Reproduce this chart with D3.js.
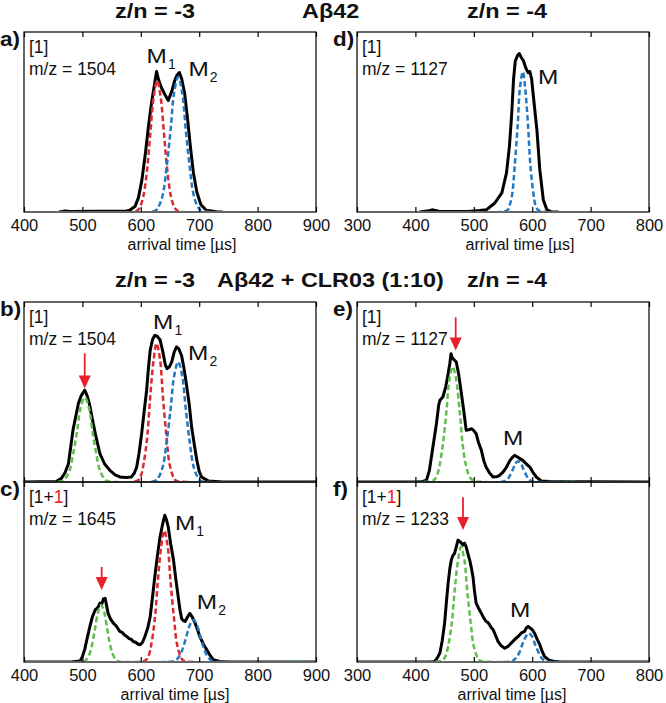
<!DOCTYPE html>
<html><head><meta charset="utf-8">
<script src="https://cdn.jsdelivr.net/npm/d3@7"></script>
<style>body{margin:0;background:#fff}svg{display:block}text{font-family:"Liberation Sans",Arial,sans-serif}</style>
</head><body><svg id="c" width="666" height="703"></svg>
<script>
// ---------- data ----------
const ticksLeft = [400,500,600,700,800,900];
const ticksRight = [300,400,500,600,700,800];
const axisTitle = "arrival time [µs]";

// panel a  (Aβ42, z/n=-3, m/z 1504)
const aTotal = [[460,0],[470,0.006],[480,0.003],[520,0.004],[560,0.004],[575,0.006],[581,0.01],[590,0.03],[596,0.08],[602,0.18],[608,0.33],[614,0.5],[619,0.62],[623,0.7],[627,0.78],[630,0.74],[634,0.7],[640,0.66],[647,0.62],[653,0.67],[658,0.73],[662,0.76],[666,0.775],[670,0.74],[675,0.66],[680,0.52],[685,0.36],[690,0.22],[696,0.11],[703,0.04],[712,0.01],[730,0.002],[740,0]];
const aM1 = [[460,0],[592,0.005],[598,0.024],[604,0.082],[610,0.212],[616,0.425],[622,0.638],[628,0.73],[634,0.638],[640,0.425],[646,0.212],[652,0.082],[658,0.024],[664,0.005],[730,0]];
const aM2 = [[460,0],[625,0.008],[631,0.033],[638,0.101],[644,0.244],[651,0.455],[657,0.662],[664,0.75],[671,0.662],[677,0.455],[684,0.244],[690,0.101],[697,0.033],[703,0.008],[730,0]];

// panel d  (Aβ42, z/n=-4, m/z 1127)
const dTotal = [[407,0],[420,0.005],[430,0.012],[440,0.004],[490,0.003],[510,0.008],[522,0.013],[536,0.05],[548,0.106],[556,0.217],[561,0.365],[565,0.55],[568,0.735],[571,0.838],[575,0.87],[578,0.88],[581,0.86],[585,0.84],[589,0.8],[593,0.774],[596,0.78],[599,0.74],[602,0.644],[605,0.55],[608,0.458],[613,0.235],[619,0.068],[625,0.013],[632,0.002],[645,0]];
const dM = [[407,0],[557,0.009],[561,0.034],[566,0.105],[570,0.254],[575,0.473],[579,0.688],[584,0.78],[588,0.688],[593,0.473],[597,0.254],[602,0.105],[606,0.034],[611,0.009],[625,0]];

// panel b  (Aβ42 + CLR03, z/n=-3, m/z 1504)
const bTotal = [[400,0],[455,0.003],[464,0.02],[470,0.05],[476,0.1],[484,0.29],[493,0.435],[498,0.48],[504,0.51],[508,0.48],[512,0.435],[517,0.35],[522,0.27],[530,0.157],[538,0.1],[547,0.065],[556,0.04],[564,0.028],[575,0.025],[584,0.028],[589,0.05],[593,0.083],[597,0.16],[601.5,0.27],[606,0.4],[610,0.51],[613,0.63],[616,0.73],[620,0.79],[624,0.815],[628,0.81],[633,0.79],[638,0.72],[642,0.65],[645,0.63],[649,0.64],[653,0.667],[657,0.72],[661,0.75],[665,0.74],[670,0.7],[674,0.63],[678,0.546],[683,0.43],[687,0.305],[692,0.2],[696,0.12],[700,0.06],[704,0.028],[716,0.005],[740,0],[900,0]];
const bBound = [[400,0],[465,0.005],[471,0.021],[478,0.063],[484,0.153],[491,0.285],[497,0.415],[504,0.47],[511,0.415],[517,0.285],[524,0.153],[530,0.063],[537,0.021],[543,0.005],[560,0],[900,0]];
const bM1 = [[400,0],[594,0.008],[600,0.034],[605,0.104],[611,0.25],[616,0.467],[622,0.679],[627,0.77],[633,0.679],[638,0.467],[644,0.25],[649,0.104],[655,0.034],[660,0.008],[680,0],[900,0]];
const bM2 = [[400,0],[625,0.007],[631,0.029],[638,0.09],[644,0.217],[651,0.405],[657,0.588],[664,0.667],[671,0.588],[677,0.405],[684,0.217],[690,0.09],[697,0.029],[703,0.007],[720,0],[900,0]];

// panel c  (Aβ42 + CLR03, z/n=-3, m/z 1645, [1+1])
const cTotal = [[400,0],[480,0],[496,0.005],[500,0.03],[504,0.07],[508,0.13],[513,0.2],[517,0.25],[522,0.29],[526,0.3],[530,0.327],[533,0.32],[536,0.35],[539,0.354],[541,0.32],[544,0.27],[548,0.24],[553,0.216],[558,0.2],[564,0.17],[568,0.165],[572,0.15],[576,0.142],[580,0.13],[584,0.125],[587,0.114],[591,0.11],[595,0.1],[599,0.096],[603,0.11],[607,0.142],[612,0.19],[616,0.25],[620,0.36],[624,0.474],[628,0.58],[633,0.695],[637,0.76],[641,0.815],[644,0.79],[647,0.75],[651,0.66],[656,0.566],[660,0.46],[664,0.363],[667,0.29],[670,0.24],[673,0.23],[676,0.225],[680,0.25],[684,0.27],[688,0.25],[693,0.216],[697,0.18],[701,0.142],[707,0.1],[713,0.068],[718,0.04],[724,0.013],[735,0.003],[750,0],[900,0]];
const cBound = [[400,0],[502,0.003],[507,0.014],[512,0.043],[517,0.103],[522,0.192],[527,0.28],[532,0.317],[537,0.28],[542,0.192],[547,0.103],[552,0.043],[557,0.014],[562,0.003],[580,0],[900,0]];
const cM1 = [[400,0],[607,0.008],[613,0.032],[618,0.099],[624,0.237],[629,0.443],[635,0.644],[640,0.73],[646,0.644],[651,0.443],[657,0.237],[662,0.099],[668,0.032],[673,0.008],[690,0],[900,0]];
const cM2 = [[400,0],[654,0.003],[660,0.01],[666,0.032],[672,0.076],[678,0.142],[684,0.206],[690,0.234],[696,0.206],[702,0.142],[708,0.076],[714,0.032],[720,0.01],[726,0.003],[740,0],[900,0]];

// panel e  (Aβ42 + CLR03, z/n=-4, m/z 1127)
const eTotal = [[300,0],[400,0],[413,0.003],[419,0.01],[424,0.065],[430,0.194],[436,0.324],[440,0.43],[442,0.454],[447,0.472],[452,0.53],[456,0.6],[459,0.66],[461,0.713],[463,0.69],[466,0.68],[470,0.667],[474,0.6],[478,0.51],[483,0.39],[487,0.287],[491,0.29],[496,0.296],[500,0.285],[504,0.268],[508,0.22],[513,0.176],[517,0.12],[521,0.083],[527,0.05],[533,0.028],[540,0.03],[544,0.037],[550,0.055],[556,0.083],[562,0.12],[567,0.14],[570,0.148],[574,0.14],[579,0.13],[584,0.12],[590,0.1],[596,0.083],[601,0.055],[607,0.028],[616,0.005],[630,0.003],[700,0.002],[800,0]];
const eBound = [[400,0],[430,0.007],[436,0.028],[441,0.086],[447,0.208],[453,0.388],[458,0.564],[464,0.64],[470,0.564],[476,0.388],[481,0.208],[487,0.086],[493,0.028],[499,0.007],[520,0],[680,0]];
const eM = [[400,0],[549,0.001],[553,0.005],[558,0.016],[562,0.037],[567,0.07],[571,0.101],[576,0.115],[581,0.101],[585,0.07],[590,0.037],[594,0.016],[599,0.005],[603,0.001],[620,0],[680,0]];

// panel f  (Aβ42 + CLR03, z/n=-4, m/z 1233, [1+1])
const fTotal = [[300,0],[425,0],[433,0.003],[437,0.02],[442,0.05],[446,0.12],[450,0.216],[453,0.33],[456,0.437],[459,0.52],[461.5,0.566],[464,0.59],[467,0.603],[470,0.64],[473,0.677],[476,0.67],[479,0.66],[481.5,0.65],[484,0.66],[487,0.64],[490,0.6],[493,0.566],[496,0.52],[498.6,0.474],[501,0.4],[504,0.327],[508,0.3],[513,0.27],[517,0.245],[521,0.225],[524,0.22],[527,0.207],[530,0.19],[533,0.18],[537,0.15],[541.5,0.114],[547,0.09],[553,0.077],[558,0.085],[564,0.105],[570,0.125],[576,0.142],[581,0.16],[587,0.17],[590,0.19],[593,0.197],[596,0.19],[600,0.18],[604,0.16],[608,0.13],[613,0.096],[617,0.06],[621,0.031],[628,0.012],[636,0.004],[650,0],[800,0]];
const fBound = [[420,0],[445,0.007],[451,0.028],[456,0.086],[462,0.208],[467,0.388],[473,0.564],[478,0.64],[484,0.564],[489,0.388],[495,0.208],[500,0.086],[506,0.028],[511,0.007],[530,0],[660,0]];
const fM = [[420,0],[561,0.002],[567,0.007],[572,0.022],[578,0.052],[583,0.097],[589,0.141],[594,0.16],[600,0.141],[605,0.097],[611,0.052],[616,0.022],[622,0.007],[627,0.002],[640,0],[660,0]];

// labels
const panelLetters = ["a)","b)","c)","d)","e)","f)"];
const speciesLabels = ["[1]","[1]","[1+1]","[1]","[1]","[1+1]"];
const mzLabels = ["m/z = 1504","m/z = 1504","m/z = 1645","m/z = 1127","m/z = 1127","m/z = 1233"];
const titleRow1 = ["z/n = -3","Aβ42","z/n = -4"];
const titleRow2 = ["z/n = -3","Aβ42 + CLR03 (1:10)","z/n = -4"];

// ---------- layout ----------
const svg = d3.select("#c");
const COLX = [[24,316],[357,649]];
const ROWY = [[32,212],[302,482],[482,662]];
const RED="#dc2b30", BLUE="#2378c3", GREEN="#62bd4f", ARROW="#e8202a";
const FONT = '"Liberation Sans",Arial,sans-serif';

function stretch(sel, f) {
  sel.each(function(){
    const L = this.getComputedTextLength();
    d3.select(this).attr("textLength", L*f).attr("lengthAdjust","spacingAndGlyphs");
  });
  return sel;
}

const panels = [
  {i:0,col:0,row:0,dom:[400,900],total:aTotal,fits:[[aM1,RED],[aM2,BLUE]],
   M:[{s:"1",x:610,y:0.83},{s:"2",x:681.5,y:0.755}],arrow:null,ticks:ticksLeft,labels:true,tdx:12},
  {i:1,col:0,row:1,dom:[400,900],total:bTotal,fits:[[bBound,GREEN],[bM1,RED],[bM2,BLUE]],
   M:[{s:"1",x:621,y:0.852},{s:"2",x:681,y:0.676}],arrow:{x:504,y0:0.715,y1:0.52},ticks:ticksLeft,labels:false},
  {i:2,col:0,row:2,dom:[400,900],total:cTotal,fits:[[cBound,GREEN],[cM1,RED],[cM2,BLUE]],
   M:[{s:"1",x:658.5,y:0.733},{s:"2",x:696,y:0.295}],arrow:{x:533,y0:0.528,y1:0.4},ticks:ticksLeft,labels:true,tdx:5},
  {i:3,col:1,row:0,dom:[300,800],total:dTotal,fits:[[dM,BLUE]],
   M:[{s:"",x:610,y:0.709}],arrow:null,ticks:ticksRight,labels:true,tdx:17},
  {i:4,col:1,row:1,dom:[300,800],total:eTotal,fits:[[eBound,GREEN],[eM,BLUE]],
   M:[{s:"",x:550,y:0.204}],arrow:{x:469,y0:0.915,y1:0.73},ticks:ticksRight,labels:false},
  {i:5,col:1,row:2,dom:[300,800],total:fTotal,fits:[[fBound,GREEN],[fM,BLUE]],
   M:[{s:"",x:562,y:0.252}],arrow:{x:481.5,y0:0.915,y1:0.733},ticks:ticksRight,labels:true,tdx:9}
];

const defs = svg.append("defs");

panels.forEach(p => {
  const [x0,x1] = COLX[p.col], [y0,y1] = ROWY[p.row];
  const x = d3.scaleLinear().domain(p.dom).range([x0,x1]);
  const y = d3.scaleLinear().domain([0,1]).range([y1,y0]);
  const g = svg.append("g");
  defs.append("clipPath").attr("id","clip"+p.i).append("rect")
    .attr("x",x0).attr("y",y0-2).attr("width",x1-x0).attr("height",y1-y0+1);
  const plot = g.append("g").attr("clip-path",`url(#clip${p.i})`);
  const lineBlack = d3.line().x(d=>x(d[0])).y(d=>y(d[1])).curve(d3.curveLinear);
  const lineFit = d3.line().x(d=>x(d[0])).y(d=>y(d[1])).curve(d3.curveCatmullRom);
  plot.append("path").attr("d",lineBlack(p.total)).attr("fill","none")
    .attr("stroke","#000").attr("stroke-width",3).attr("stroke-linejoin","round");
  p.fits.forEach(([data,col]) => {
    plot.append("path").attr("d",lineFit(data)).attr("fill","none")
      .attr("stroke",col).attr("stroke-width",2.5).attr("stroke-dasharray","5.5,3");
  });
  // frame
  g.append("rect").attr("x",x0).attr("y",y0).attr("width",x1-x0).attr("height",y1-y0)
    .attr("fill","none").attr("stroke","#000").attr("stroke-width",1.2);
  // inward ticks top & bottom
  const top = g.append("g").attr("transform",`translate(0,${y0})`)
    .call(d3.axisTop(x).tickValues(p.ticks).tickSize(-5).tickFormat(""));
  const bot = g.append("g").attr("transform",`translate(0,${y1})`)
    .call(d3.axisBottom(x).tickValues(p.ticks).tickSize(-5).tickPadding(7.5)
      .tickFormat(p.labels ? d3.format("d") : ""));
  [top,bot].forEach(a => { a.select(".domain").remove(); a.selectAll("line").attr("stroke","#000").attr("stroke-width",1.2); });
  bot.selectAll("text").attr("font-size",16.5).attr("font-family",FONT).attr("fill","#111");
  if (p.labels) {
    g.append("text").attr("x",(x0+x1)/2 + p.tdx).attr("y",y1+37.5)
      .attr("text-anchor","middle").attr("font-size",16).attr("fill","#111").text(axisTitle);
  }
  // panel letter
  stretch(g.append("text").attr("x",x0-24).attr("y",y0+14).attr("font-size",19.5).attr("font-weight","bold")
    .attr("fill","#111").text(panelLetters[p.i]), 1.15);
  // species + m/z
  const sp = g.append("text").attr("x",x0+5).attr("y",y0+21).attr("font-size",17.5).attr("fill","#111");
  if (speciesLabels[p.i]==="[1+1]") {
    sp.append("tspan").text("[1+");
    sp.append("tspan").attr("fill","#e8202a").text("1");
    sp.append("tspan").text("]");
  } else sp.text(speciesLabels[p.i]);
  g.append("text").attr("x",x0+5).attr("y",y0+43).attr("font-size",17.5).attr("fill","#111").text(mzLabels[p.i]);
  // M labels
  p.M.forEach(m => {
    const mx = x(m.x), my = y(m.y);
    const t = stretch(g.append("text").attr("x",mx).attr("y",my).attr("font-size",19.5).attr("fill","#111").text("M"), 1.25);
    const w = +t.attr("textLength");
    if (m.s) g.append("text").attr("x",mx+w+1).attr("y",my+6).attr("font-size",14).attr("fill","#111").text(m.s);
  });
  // arrow
  if (p.arrow) {
    const ax = x(p.arrow.x), ya = y(p.arrow.y0), yb = y(p.arrow.y1);
    g.append("line").attr("x1",ax).attr("x2",ax).attr("y1",ya).attr("y2",yb-10)
      .attr("stroke",ARROW).attr("stroke-width",1.8);
    g.append("path").attr("d",`M${ax-6},${yb-13}L${ax+6},${yb-13}L${ax},${yb}Z`).attr("fill",ARROW);
  }
});

// titles
const titleX1 = [115,302,467];
const titleX2 = [115,217,467];
[[titleRow1,titleX1,18],[titleRow2,titleX2,287]].forEach(([texts,xs,ty]) => {
  texts.forEach((t,k) => {
    stretch(svg.append("text").attr("x",xs[k]).attr("y",ty).attr("font-size",19.5).attr("font-weight","bold")
      .attr("fill","#111").text(t), 1.2);
  });
});
</script></body></html>
